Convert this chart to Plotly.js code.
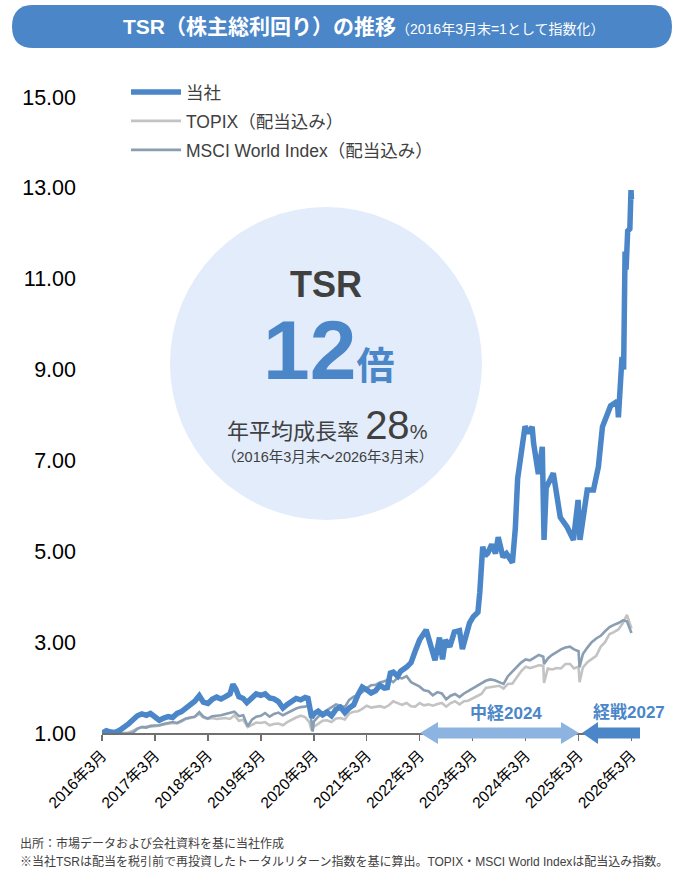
<!DOCTYPE html>
<html>
<head>
<meta charset="utf-8">
<script src="https://cdn.plot.ly/plotly-3.0.1.min.js"></script>
<style>html,body{margin:0;padding:0;background:#fff}</style>
</head>
<body>
<div id="chart" style="width:677px;height:883px"></div>
<script>
// ---------------- DATA ----------------
const seriesNames = ['当社', 'TOPIX（配当込み）', 'MSCI World Index（配当込み）'];

const companyDates = [
 '2016-03-31','2016-04-30','2016-05-31','2016-06-30','2016-07-31','2016-08-31','2016-09-30','2016-10-31','2016-11-30','2016-12-31',
 '2017-01-31','2017-02-28','2017-03-31','2017-04-30','2017-05-31','2017-06-30','2017-07-31','2017-08-31','2017-09-30','2017-10-31','2017-11-30','2017-12-31',
 '2018-01-31','2018-02-28','2018-03-31','2018-04-30','2018-05-31','2018-06-30','2018-07-31','2018-08-31','2018-09-20','2018-10-10','2018-10-31','2018-11-30','2018-12-25',
 '2019-01-31','2019-02-28','2019-03-31','2019-04-30','2019-05-31','2019-06-30','2019-07-31','2019-08-31','2019-09-30','2019-10-31','2019-11-30','2019-12-31',
 '2020-01-31','2020-02-20','2020-03-16','2020-03-31','2020-04-30','2020-05-31','2020-06-30','2020-07-31','2020-08-31','2020-09-30','2020-10-31','2020-11-30','2020-12-31',
 '2021-01-31','2021-02-28','2021-03-31','2021-04-30','2021-05-31','2021-06-30','2021-07-31','2021-08-20','2021-09-10','2021-09-30','2021-10-31','2021-11-20','2021-12-31',
 '2022-01-31','2022-02-28','2022-03-31','2022-05-15','2022-06-30','2022-07-15','2022-08-15','2022-09-05','2022-09-25','2022-10-25','2022-11-25','2022-12-31',
 '2023-01-20','2023-03-10','2023-04-05','2023-05-07','2023-05-20','2023-06-09','2023-06-25','2023-07-14','2023-08-10','2023-09-05','2023-09-24','2023-10-27','2023-11-20','2023-12-31',
 '2024-01-20','2024-02-05','2024-02-25','2024-03-27','2024-04-20','2024-05-15','2024-05-25','2024-06-27','2024-07-24','2024-08-05','2024-08-20','2024-10-08','2024-11-25',
 '2025-01-12','2025-02-24','2025-03-28','2025-04-10','2025-05-30','2025-07-12','2025-08-15','2025-09-12','2025-11-07','2025-12-24','2025-12-31',
 '2026-01-25','2026-02-05','2026-02-15','2026-02-22','2026-03-05','2026-03-20','2026-03-28','2026-03-31'
];
const companyTSR = [
 1.00,1.05,1.02,1.01,1.06,1.12,1.20,1.29,1.38,1.42,
 1.39,1.43,1.35,1.28,1.33,1.36,1.34,1.43,1.47,1.55,1.62,1.70,
 1.82,1.68,1.65,1.74,1.79,1.75,1.80,1.86,2.07,1.97,1.80,1.76,1.67,
 1.80,1.86,1.83,1.86,1.77,1.75,1.69,1.55,1.63,1.70,1.76,1.73,
 1.78,1.76,1.34,1.42,1.48,1.40,1.46,1.38,1.52,1.57,1.45,1.55,1.62,
 1.85,2.01,1.95,1.88,1.93,2.05,1.99,2.00,2.32,2.34,2.25,2.36,2.45,
 2.55,2.80,3.05,3.27,2.67,2.60,3.10,2.62,3.05,2.90,3.22,3.25,
 2.85,3.42,3.56,3.66,4.10,5.10,4.90,4.96,5.15,4.95,5.31,4.87,4.95,4.75,
 5.50,6.60,7.05,7.75,7.60,7.74,7.38,6.70,7.30,5.25,6.40,6.72,5.75,
 5.53,5.25,6.13,5.25,6.35,6.35,6.86,7.74,8.20,8.30,7.95,
 9.28,9.00,11.60,11.20,12.05,12.10,12.95,12.75
];

const indexDates = [
 '2016-03-31','2016-04-30','2016-05-31','2016-06-30','2016-07-31','2016-08-31','2016-09-30','2016-10-31','2016-11-30','2016-12-31',
 '2017-01-31','2017-02-28','2017-03-31','2017-04-30','2017-05-31','2017-06-30','2017-07-31','2017-08-31','2017-09-30','2017-10-31','2017-11-30','2017-12-31',
 '2018-01-31','2018-02-28','2018-03-31','2018-04-30','2018-05-31','2018-06-30','2018-07-31','2018-08-31','2018-09-30','2018-10-31','2018-11-30','2018-12-31',
 '2019-01-31','2019-02-28','2019-03-31','2019-04-30','2019-05-31','2019-06-30','2019-07-31','2019-08-31','2019-09-30','2019-10-31','2019-11-30','2019-12-31',
 '2020-01-31','2020-02-29','2020-03-16','2020-03-23','2020-03-31','2020-04-30','2020-05-31','2020-06-30','2020-07-31','2020-08-31','2020-09-30','2020-10-31','2020-11-30','2020-12-31',
 '2021-01-31','2021-02-28','2021-03-31','2021-04-30','2021-05-31','2021-06-30','2021-07-31','2021-08-31','2021-09-30','2021-10-31','2021-11-30','2021-12-31',
 '2022-01-31','2022-02-28','2022-03-31','2022-04-30','2022-05-31','2022-06-30','2022-07-31','2022-08-31','2022-09-30','2022-10-31','2022-11-30','2022-12-31',
 '2023-01-31','2023-02-28','2023-03-31','2023-04-30','2023-05-31','2023-06-30','2023-07-31','2023-08-31','2023-09-30','2023-10-31','2023-11-30','2023-12-31',
 '2024-01-31','2024-02-29','2024-03-31','2024-04-30','2024-05-31','2024-06-30','2024-07-31','2024-08-05','2024-08-31','2024-09-30','2024-10-31','2024-11-30','2024-12-31',
 '2025-01-31','2025-02-28','2025-03-31','2025-04-07','2025-04-30','2025-05-31','2025-06-30','2025-07-31','2025-08-31','2025-09-30','2025-10-31','2025-11-30','2025-12-31',
 '2026-01-31','2026-02-28','2026-03-31'
];
const topixTSR = [
 1.00,0.99,1.00,0.96,0.99,1.00,1.01,1.05,1.10,1.13,
 1.13,1.14,1.15,1.16,1.19,1.21,1.22,1.21,1.25,1.31,1.33,1.35,
 1.42,1.34,1.31,1.33,1.31,1.32,1.33,1.31,1.39,1.27,1.29,1.13,
 1.19,1.23,1.22,1.24,1.17,1.20,1.21,1.17,1.24,1.30,1.34,1.38,
 1.35,1.24,1.06,1.10,1.14,1.20,1.27,1.28,1.24,1.32,1.33,1.30,1.43,1.47,
 1.48,1.53,1.60,1.56,1.58,1.59,1.56,1.61,1.70,1.65,1.62,1.66,
 1.59,1.58,1.66,1.61,1.63,1.60,1.64,1.66,1.58,1.66,1.70,1.63,
 1.70,1.71,1.76,1.80,1.86,1.99,2.01,2.02,2.04,1.98,2.08,2.09,
 2.24,2.36,2.46,2.43,2.46,2.49,2.48,2.10,2.42,2.40,2.43,2.42,2.52,
 2.52,2.42,2.46,2.12,2.44,2.56,2.62,2.70,2.90,3.00,3.18,3.22,3.28,
 3.42,3.60,3.30
];
const msciTSR = [
 1.00,1.00,1.01,0.96,1.00,0.99,0.99,1.01,1.09,1.13,
 1.12,1.16,1.16,1.17,1.20,1.22,1.24,1.22,1.27,1.32,1.34,1.36,
 1.46,1.36,1.32,1.37,1.38,1.39,1.42,1.44,1.47,1.37,1.39,1.15,
 1.30,1.36,1.38,1.44,1.36,1.42,1.45,1.39,1.44,1.49,1.54,1.57,
 1.58,1.62,1.12,1.03,1.25,1.36,1.44,1.50,1.55,1.63,1.60,1.57,1.73,1.80,
 1.84,1.90,1.99,2.05,2.06,2.11,2.14,2.18,2.12,2.22,2.20,2.25,
 2.12,2.08,2.02,1.94,1.92,1.83,1.90,1.87,1.74,1.82,1.86,1.79,
 1.87,1.92,1.98,2.02,2.08,2.15,2.18,2.16,2.12,2.08,2.25,2.36,
 2.45,2.55,2.62,2.60,2.66,2.72,2.68,2.52,2.64,2.72,2.78,2.84,2.88,
 2.90,2.84,2.80,2.45,2.74,2.88,3.00,3.08,3.14,3.24,3.33,3.38,3.42,
 3.48,3.46,3.20
];

const tickDates = ['2016-03-31','2017-03-31','2018-03-31','2019-03-31','2020-03-31','2021-03-31','2022-03-31','2023-03-31','2024-03-31','2025-03-31','2026-03-31'];
const tickLabels = ['2016年3月','2017年3月','2018年3月','2019年3月','2020年3月','2021年3月','2022年3月','2023年3月','2024年3月','2025年3月','2026年3月'];
const yTicks = [1, 3, 5, 7, 9, 11, 13, 15];

// ---------------- LAYOUT HELPERS ----------------
const FONT = "Arial, 'Liberation Sans', 'Noto Sans CJK JP', sans-serif";
const FIG_W = 677, FIG_H = 883, L = 102, R = 640, T = 97, B = 733;
const PW = R - L, PH = B - T;
const fx = p => (p - L) / PW;
const fy = p => (B - p) / PH;
const pt = (x, y) => fx(x).toFixed(5) + ',' + fy(y).toFixed(5);
function poly(points) {
  return 'M' + points.map(p => pt(p[0], p[1])).join(' L') + ' Z';
}
function pill(x0, y0, x1, y1) {
  const r = (y1 - y0) / 2, ym = (y0 + y1) / 2;
  return 'M' + pt(x0 + r, y0) + ' L' + pt(x1 - r, y0) +
    ' Q' + pt(x1, y0) + ' ' + pt(x1, ym) +
    ' Q' + pt(x1, y1) + ' ' + pt(x1 - r, y1) +
    ' L' + pt(x0 + r, y1) +
    ' Q' + pt(x0, y1) + ' ' + pt(x0, ym) +
    ' Q' + pt(x0, y0) + ' ' + pt(x0 + r, y0) + ' Z';
}

const BLUE = '#4A86C8';
const traces = [
  {x: indexDates, y: topixTSR, name: seriesNames[1], type: 'scatter', mode: 'lines',
   line: {color: '#C3C3C3', width: 2.6}, legend: 'legend2', hoverinfo: 'skip'},
  {x: indexDates, y: msciTSR, name: seriesNames[2], type: 'scatter', mode: 'lines',
   line: {color: '#8A9EB3', width: 2.6}, legend: 'legend3', hoverinfo: 'skip'},
  {x: companyDates, y: companyTSR, name: seriesNames[0], type: 'scatter', mode: 'lines',
   line: {color: BLUE, width: 5.5}, legend: 'legend', hoverinfo: 'skip'}
];

const legBase = {xanchor: 'left', yanchor: 'middle', bgcolor: 'rgba(0,0,0,0)', borderwidth: 0,
  font: {family: FONT, size: 17.5, color: '#404040'}, itemwidth: 50, itemclick: false, itemdoubleclick: false};

const layout = {
  width: FIG_W, height: FIG_H,
  margin: {l: L, r: FIG_W - R, t: T, b: FIG_H - B, pad: 0},
  paper_bgcolor: '#ffffff', plot_bgcolor: 'rgba(0,0,0,0)',
  font: {family: FONT, color: '#000'},
  showlegend: true,
  xaxis: {
    type: 'date', range: ['2016-03-31', '2026-05-29'],
    tickmode: 'array', tickvals: tickDates, ticktext: tickLabels, tickangle: -45,
    ticks: 'outside', ticklen: 6, tickwidth: 1.5, tickcolor: '#707070',
    showline: true, linecolor: '#707070', linewidth: 1.5,
    showgrid: false, zeroline: false,
    tickfont: {family: FONT, size: 15.5, color: '#000'}
  },
  yaxis: {
    range: [1, 15], tickmode: 'array', tickvals: yTicks, tickformat: '.2f',
    showgrid: false, zeroline: false, showline: false, ticks: '',
    tickfont: {family: FONT, size: 21.5, color: '#000'}, ticklabelstandoff: 25
  },
  legend: Object.assign({}, legBase, {x: fx(126), y: fy(92)}),
  legend2: Object.assign({}, legBase, {x: fx(126), y: fy(121)}),
  legend3: Object.assign({}, legBase, {x: fx(126), y: fy(150)}),
  shapes: [
    {type: 'path', xref: 'paper', yref: 'paper', path: pill(12, 5, 672, 48),
     fillcolor: BLUE, line: {width: 0}, layer: 'above'},
    {type: 'circle', xref: 'paper', yref: 'paper', x0: fx(170), x1: fx(482), y0: fy(520), y1: fy(207),
     fillcolor: '#E2ECFA', line: {width: 0}, layer: 'below'},
    {type: 'path', xref: 'paper', yref: 'paper', layer: 'above', fillcolor: '#8DB4E0', line: {width: 0},
     path: poly([[420,733],[438,722],[438,727.5],[561,727.5],[561,722],[579,733],[561,744],[561,738.5],[438,738.5],[438,744]])},
    {type: 'path', xref: 'paper', yref: 'paper', layer: 'above', fillcolor: BLUE, line: {width: 0},
     path: poly([[582,733],[598,722],[598,727.5],[640,727.5],[640,738.5],[598,738.5],[598,744]])}
  ],
  annotations: [
    {xref: 'paper', yref: 'paper', x: fx(121), y: fy(27), xanchor: 'left', yanchor: 'middle', showarrow: false,
     text: "<b>TSR（株主総利回り）の推移</b><span style='font-size:14px'>（2016年3月末=1として指数化）</span>",
     font: {family: FONT, size: 21, color: '#ffffff'}},
    {xref: 'paper', yref: 'paper', x: fx(326), y: fy(284), xanchor: 'center', yanchor: 'middle', showarrow: false,
     text: '<b>TSR</b>', font: {family: FONT, size: 36, color: '#404040'}},
    {xref: 'paper', yref: 'paper', x: fx(328), y: fy(350), xanchor: 'center', yanchor: 'middle', showarrow: false,
     text: "<b>12</b><b><span style='font-size:38px'>倍</span></b>", font: {family: FONT, size: 84, color: BLUE}},
    {xref: 'paper', yref: 'paper', x: fx(327), y: fy(425), xanchor: 'center', yanchor: 'middle', showarrow: false,
     text: "年平均成長率 <span style='font-size:40px'>28</span><span style='font-size:20px'>%</span>",
     font: {family: FONT, size: 22, color: '#404040'}},
    {xref: 'paper', yref: 'paper', x: fx(327), y: fy(457), xanchor: 'center', yanchor: 'middle', showarrow: false,
     text: '（2016年3月末～2026年3月末）', font: {family: FONT, size: 14.5, color: '#404040'}},
    {xref: 'paper', yref: 'paper', x: fx(506), y: fy(713), xanchor: 'center', yanchor: 'middle', showarrow: false,
     text: '<b>中経2024</b>', font: {family: FONT, size: 17, color: BLUE}},
    {xref: 'paper', yref: 'paper', x: fx(629), y: fy(712), xanchor: 'center', yanchor: 'middle', showarrow: false,
     text: '<b>経戦2027</b>', font: {family: FONT, size: 17, color: BLUE}},
    {xref: 'paper', yref: 'paper', x: fx(18), y: fy(843), xanchor: 'left', yanchor: 'middle', showarrow: false,
     text: '出所：市場データおよび会社資料を基に当社作成', font: {family: FONT, size: 12, color: '#404040'}},
    {xref: 'paper', yref: 'paper', x: fx(18), y: fy(861), xanchor: 'left', yanchor: 'middle', showarrow: false,
     text: '※当社TSRは配当を税引前で再投資したトータルリターン指数を基に算出。TOPIX・MSCI World Indexは配当込み指数。',
     font: {family: FONT, size: 12, color: '#404040'}}
  ]
};

Plotly.newPlot('chart', traces, layout, {displayModeBar: false, staticPlot: true});
</script>
</body>
</html>
